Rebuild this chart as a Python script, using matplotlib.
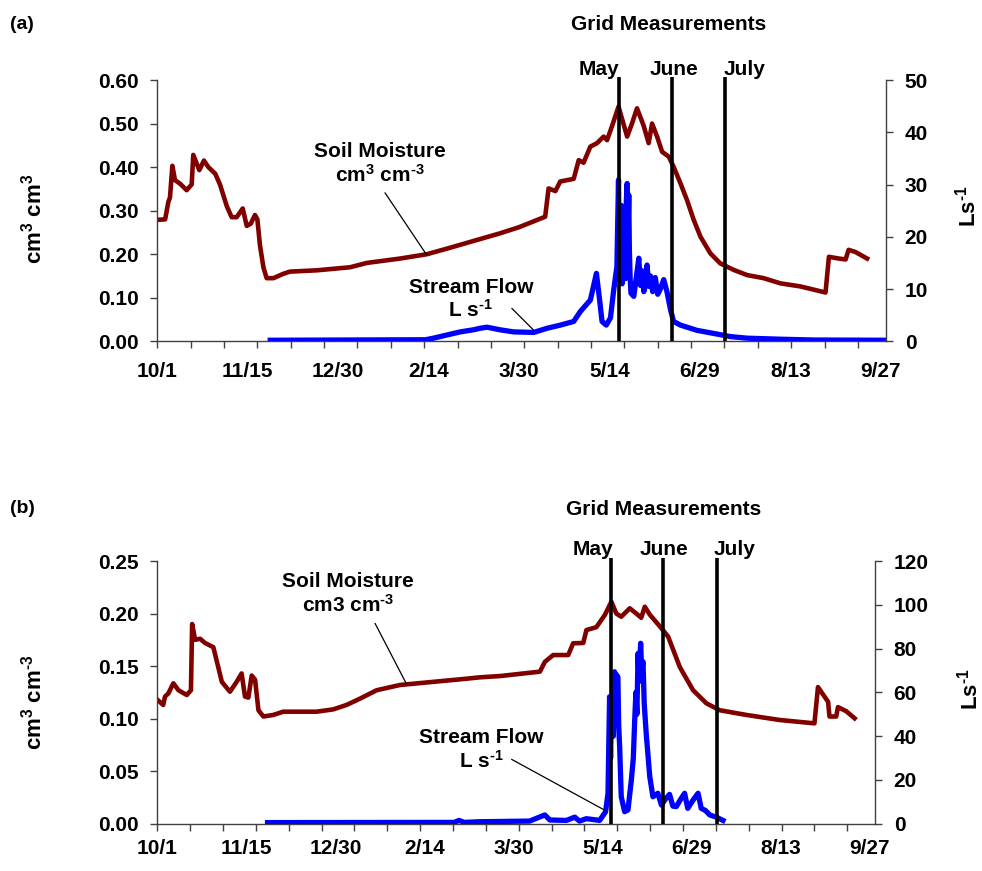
import numpy as np
import matplotlib
matplotlib.use("Agg")
import matplotlib.pyplot as plt
from matplotlib.ticker import FixedLocator, FuncFormatter

plt.rcParams['font.family'] = ['Liberation Sans', 'DejaVu Sans']
plt.rcParams['font.weight'] = 'bold'
plt.rcParams['mathtext.default'] = 'regular'

# date tick labels (every 45 days from 10/1)
date_labels = ['10/1', '11/15', '12/30', '2/14', '3/30', '5/14', '6/29', '8/13', '9/27']
label_days = [0, 45, 90, 135, 180, 225, 270, 315, 360]
grid_months = ['May', 'June', 'July']

# panel (a): soil moisture (cm3 cm-3) vs day
sm_a_day = [0.2, 3.9, 5.5, 6.3, 7.5, 8.8, 11.3, 14.6, 17.1, 17.9, 20.9, 23.2, 25.4, 28.8,
            31.2, 34.6, 37, 39.5, 42.5, 44.5, 46.5, 48.6, 49.8, 51.1, 52.8, 54.4, 57.8,
            62.7, 66, 79.4, 95.9, 104.3, 120.8, 134.2, 145.8, 162.3, 170.6, 180, 193,
            194.7, 198.1, 200.5, 207.2, 209.7, 212.1, 215.5, 218.8, 222.1, 223.8, 226.2,
            229.5, 231.3, 233.8, 236.2, 238.7, 242, 244.5, 246.2, 248.7, 251.2, 254.5,
            256.9, 260.3, 263.6, 266.9, 270.3, 275.2, 280.1, 286.8, 293.5, 301.7, 310.1,
            320, 332.5, 334.2, 339.1, 342.5, 344, 347.4, 353.2]
sm_a_val = [0.279, 0.28, 0.32, 0.33, 0.403, 0.37, 0.362, 0.347, 0.36, 0.428, 0.393, 0.415,
            0.40, 0.385, 0.36, 0.31, 0.285, 0.285, 0.305, 0.265, 0.27, 0.29, 0.28, 0.22,
            0.17, 0.145, 0.145, 0.155, 0.16, 0.163, 0.17, 0.18, 0.19, 0.20, 0.215, 0.237,
            0.248, 0.262, 0.286, 0.351, 0.345, 0.367, 0.373, 0.416, 0.41, 0.447, 0.455,
            0.47, 0.462, 0.493, 0.539, 0.51, 0.47, 0.50, 0.535, 0.495, 0.455, 0.50, 0.47,
            0.435, 0.424, 0.401, 0.363, 0.324, 0.279, 0.24, 0.202, 0.179, 0.164, 0.152,
            0.145, 0.133, 0.126, 0.112, 0.194, 0.19, 0.188, 0.21, 0.205, 0.19]

# panel (a): stream flow (L s-1) vs day
sf_a_day = [56.2, 133.4, 137.4, 150.7, 157.3, 160.7, 164, 170.6, 177.3, 187.3, 194, 200.6,
            207.2, 210.5, 215.5, 218.5, 220.1, 221.3, 223.4, 225.5, 227.1, 228.7, 229.2,
            229.5, 229.9, 230.4, 230.9, 231.3, 231.7, 232.1, 232.6, 233, 233.4, 233.8,
            234.2, 234.6, 234.9, 235.3, 235.7, 237.1, 239.6, 240.4, 241.2, 242.1, 243.7,
            244.5, 245.4, 246.5, 247.8, 249, 250.3, 252, 253.6, 255.4, 256.9, 260.3, 268.5,
            276.9, 285.2, 293.5, 310.1, 326.7, 362.2]
sf_a_val = [0.2, 0.3, 0.6, 1.8, 2.2, 2.5, 2.7, 2.2, 1.8, 1.7, 2.5, 3.1, 3.8, 5.7, 7.9, 13.0,
            7.9, 3.8, 3.1, 4.5, 9.8, 14.3, 25, 30.9, 12, 19.4, 26, 11, 25, 14, 22, 12, 27,
            30.2, 20, 28, 17.5, 12, 9.2, 8.6, 15.9, 10.7, 13.5, 9.5, 14.6, 10.5, 12.5, 9.5,
            12.2, 9, 10, 11.8, 9.5, 6.0, 3.8, 3.1, 2.1, 1.5, 0.9, 0.6, 0.4, 0.25, 0.2]

# panel (b): soil moisture
sm_b_day = [0.2, 3, 3.9, 5.6, 8.1, 10.7, 14.9, 17, 17.6, 19.1, 21.6, 24.1, 28.3, 30.8,
            32.6, 36.7, 40.1, 42.6, 44.3, 46, 47.7, 49.4, 51.1, 53.6, 58.6, 63.6, 80.5,
            88.9, 95.6, 102.4, 110.8, 122.6, 139.4, 156.3, 163, 173.1, 193.3, 195.8, 200,
            207.6, 210.1, 215.2, 216.8, 221.8, 226.1, 229.4, 231.9, 234.4, 238.7, 242,
            244.5, 246.3, 248.8, 254.7, 258.1, 264, 270.7, 277.4, 284.1, 297.6, 314.4,
            332, 333.8, 338.9, 339.6, 343, 343.9, 348.1, 352.3]
sm_b_val = [0.1177, 0.113, 0.121, 0.124, 0.1336, 0.127, 0.1225, 0.127, 0.190, 0.175, 0.176,
            0.172, 0.168, 0.149, 0.135, 0.1256, 0.135, 0.143, 0.121, 0.12, 0.141, 0.137,
            0.108, 0.102, 0.1035, 0.1066, 0.1066, 0.1088, 0.113, 0.119, 0.127, 0.132,
            0.135, 0.138, 0.1393, 0.1405, 0.1447, 0.154, 0.1605, 0.1605, 0.1717, 0.172,
            0.1843, 0.187, 0.1986, 0.2113, 0.200, 0.197, 0.205, 0.200, 0.196, 0.2065,
            0.199, 0.186, 0.178, 0.149, 0.127, 0.1146, 0.108, 0.1035, 0.0987, 0.0955,
            0.130, 0.116, 0.102, 0.102, 0.111, 0.107, 0.1003]

# panel (b): stream flow
sf_b_day = [55.7, 150, 152.5, 155, 163, 188.1, 195.8, 198.3, 206.7, 210.9, 213.3, 216.8,
            223.5, 226.5, 227.7, 228.5, 229, 229.5, 229.9, 230.4, 231, 231.5, 232, 232.7,
            233.1, 233.6, 234.4, 236.1, 237.8, 239.5, 240.5, 241.2, 241.8, 242.3, 242.9,
            243.4, 244.2, 244.7, 245.4, 246, 247, 248.8, 250.4, 252.9, 254.7, 256.5, 258.8,
            260.5, 262.2, 264.3, 266.4, 268, 270.7, 273.2, 274.8, 277, 279.1, 282.4, 285.8]
sf_b_val = [0.5, 0.6, 1.5, 0.6, 0.9, 1.2, 4, 1.7, 1.5, 3, 1.2, 2.3, 1.5, 5.5, 13.9, 58, 30,
            55, 51, 40, 69.4, 45, 68, 67, 45, 35, 12.3, 5.5, 6.3, 20, 30, 47.4, 60, 50, 77.8,
            65, 82.4, 70, 74, 55, 41.3, 21.5, 12.3, 13.9, 8.5, 11, 13.4, 8, 7.8, 11, 13.9,
            7, 10.8, 13.9, 7, 6, 4, 3, 1.5]

W, H = 982, 871
fig = plt.figure(figsize=(W / 100, H / 100), dpi=100)

def fx(px):
    return px / W

def fy(py):
    return 1 - py / H

RED = '#800000'
BLUE = '#0000FF'
SPINE = '#404040'
FS = 15
HY = '\u2010'  # short hyphen for superscripts, like the original

def setup(ax, ax2, ylim, yticks, fmt, ylim2, yticks2, xpad):
    ax.set_xlim(0, 362.6)
    ax.set_ylim(*ylim)
    ax2.set_ylim(*ylim2)
    ax.set_yticks(yticks)
    ax.yaxis.set_major_formatter(FuncFormatter(lambda v, p: fmt % v))
    ax2.set_yticks(yticks2)
    ax2.yaxis.set_major_formatter(FuncFormatter(lambda v, p: '%d' % round(v)))
    for a in (ax, ax2):
        a.spines['top'].set_visible(False)
        for s in a.spines.values():
            s.set_color(SPINE)
            s.set_linewidth(1)
    ax.spines['right'].set_visible(False)
    ax2.spines['left'].set_visible(False)
    ax2.spines['bottom'].set_visible(False)
    ax.xaxis.remove_overlapping_locs = False
    ax.set_xticks(label_days)
    ax.set_xticklabels(date_labels)
    ax.xaxis.set_minor_locator(FixedLocator(np.arange(0, 362, 16.6)))
    ax.tick_params(axis='x', which='major', length=0, pad=xpad, labelsize=FS)
    ax.tick_params(axis='x', which='minor', direction='out', length=5, width=1, color=SPINE)
    ax.tick_params(axis='y', direction='out', length=5, width=1, color=SPINE,
                   pad=8.5, labelsize=FS)
    ax2.tick_params(axis='y', direction='out', length=5, width=1, color=SPINE,
                    pad=8.5, labelsize=FS)
    for lab in ax.get_xticklabels() + ax.get_yticklabels() + ax2.get_yticklabels():
        lab.set_fontweight('bold')

def month_lines(ax, days, ylim_top):
    for d in days:
        ax.plot([d, d], [0, ylim_top * 1.012], color='black', lw=2.6,
                clip_on=False, zorder=5, solid_capstyle='butt')

# ---------- panel (a) ----------
ax_a = fig.add_axes([fx(157.3), fy(341.3), fx(886) - fx(157.3), fy(80) - fy(341.3)])
ax_a2 = ax_a.twinx()
setup(ax_a, ax_a2, (0, 0.6), np.arange(0, 0.61, 0.1), '%.2f', (0, 50), range(0, 51, 10), 15)
ax_a.plot(sm_a_day, sm_a_val, color=RED, lw=3.3, solid_joinstyle='round')
ax_a2.plot(sf_a_day, sf_a_val, color=BLUE, lw=3.8, solid_joinstyle='round')
grid_a = [229.5, 256.3, 282.5]
month_lines(ax_a2, grid_a, 50)
ax_a.annotate('', xy=(134.1, 0.198), xytext=(113.3, 0.341),
              arrowprops=dict(arrowstyle='-', color='black', lw=0.9, shrinkA=0, shrinkB=0))
ax_a2.annotate('', xy=(187.2, 2.16), xytext=(176.4, 6.3),
               arrowprops=dict(arrowstyle='-', color='black', lw=0.9, shrinkA=0, shrinkB=0))

fig.text(fx(10), fy(29.3), '(a)', fontsize=14, ha='left', va='baseline')
fig.text(fx(669), fy(30), 'Grid Measurements', fontsize=FS, ha='center', va='baseline')
fig.text(fx(619), fy(75), grid_months[0], fontsize=FS, ha='right', va='baseline')
fig.text(fx(674), fy(75), grid_months[1], fontsize=FS, ha='center', va='baseline')
fig.text(fx(724), fy(75), grid_months[2], fontsize=FS, ha='left', va='baseline')
fig.text(fx(380), fy(156.7), 'Soil Moisture', fontsize=FS, ha='center', va='baseline')
fig.text(fx(380), fy(181.7), 'cm$^{3}$ cm$^{' + HY + '3}$', fontsize=FS, ha='center', va='baseline')
fig.text(fx(471.3), fy(292.7), 'Stream Flow', fontsize=FS, ha='center', va='baseline')
fig.text(fx(470.3), fy(316.7), 'L s$^{' + HY + '1}$', fontsize=FS, ha='center', va='baseline')
fig.text(fx(34), fy(219), 'cm$^{3}$ cm$^{3}$', fontsize=16, rotation=90, ha='center', va='center')
fig.text(fx(968), fy(206), 'Ls$^{' + HY + '1}$', fontsize=16, rotation=90, ha='center', va='center')

# ---------- panel (b) ----------
ax_b = fig.add_axes([fx(157.3), fy(823.7), fx(875) - fx(157.3), fy(561) - fy(823.7)])
ax_b2 = ax_b.twinx()
setup(ax_b, ax_b2, (0, 0.25), np.arange(0, 0.251, 0.05), '%.2f', (0, 120), range(0, 121, 20), 11)
ax_b.plot(sm_b_day, sm_b_val, color=RED, lw=3.3, solid_joinstyle='round')
ax_b2.plot(sf_b_day, sf_b_val, color=BLUE, lw=3.8, solid_joinstyle='round')
grid_b = [229.1, 255.3, 282.7]
month_lines(ax_b2, grid_b, 120)
ax_b.annotate('', xy=(126, 0.1326), xytext=(110, 0.1907),
              arrowprops=dict(arrowstyle='-', color='black', lw=0.9, shrinkA=0, shrinkB=0))
ax_b2.annotate('', xy=(226.6, 5.9), xytext=(179, 29.4),
               arrowprops=dict(arrowstyle='-', color='black', lw=0.9, shrinkA=0, shrinkB=0))

fig.text(fx(10), fy(513.3), '(b)', fontsize=14, ha='left', va='baseline')
fig.text(fx(663.7), fy(515), 'Grid Measurements', fontsize=FS, ha='center', va='baseline')
fig.text(fx(613), fy(555), grid_months[0], fontsize=FS, ha='right', va='baseline')
fig.text(fx(663.7), fy(555), grid_months[1], fontsize=FS, ha='center', va='baseline')
fig.text(fx(713.3), fy(555), grid_months[2], fontsize=FS, ha='left', va='baseline')
fig.text(fx(348.3), fy(586.7), 'Soil Moisture', fontsize=FS, ha='center', va='baseline')
fig.text(fx(348.7), fy(611.7), 'cm3 cm$^{' + HY + '3}$', fontsize=FS, ha='center', va='baseline')
fig.text(fx(481.3), fy(743.3), 'Stream Flow', fontsize=FS, ha='center', va='baseline')
fig.text(fx(481.7), fy(767.3), 'L s$^{' + HY + '1}$', fontsize=FS, ha='center', va='baseline')
fig.text(fx(34), fy(702), 'cm$^{3}$ cm$^{' + HY + '3}$', fontsize=16, rotation=90, ha='center', va='center')
fig.text(fx(970), fy(689), 'Ls$^{' + HY + '1}$', fontsize=16, rotation=90, ha='center', va='center')

fig.savefig('out.png', dpi=100)
